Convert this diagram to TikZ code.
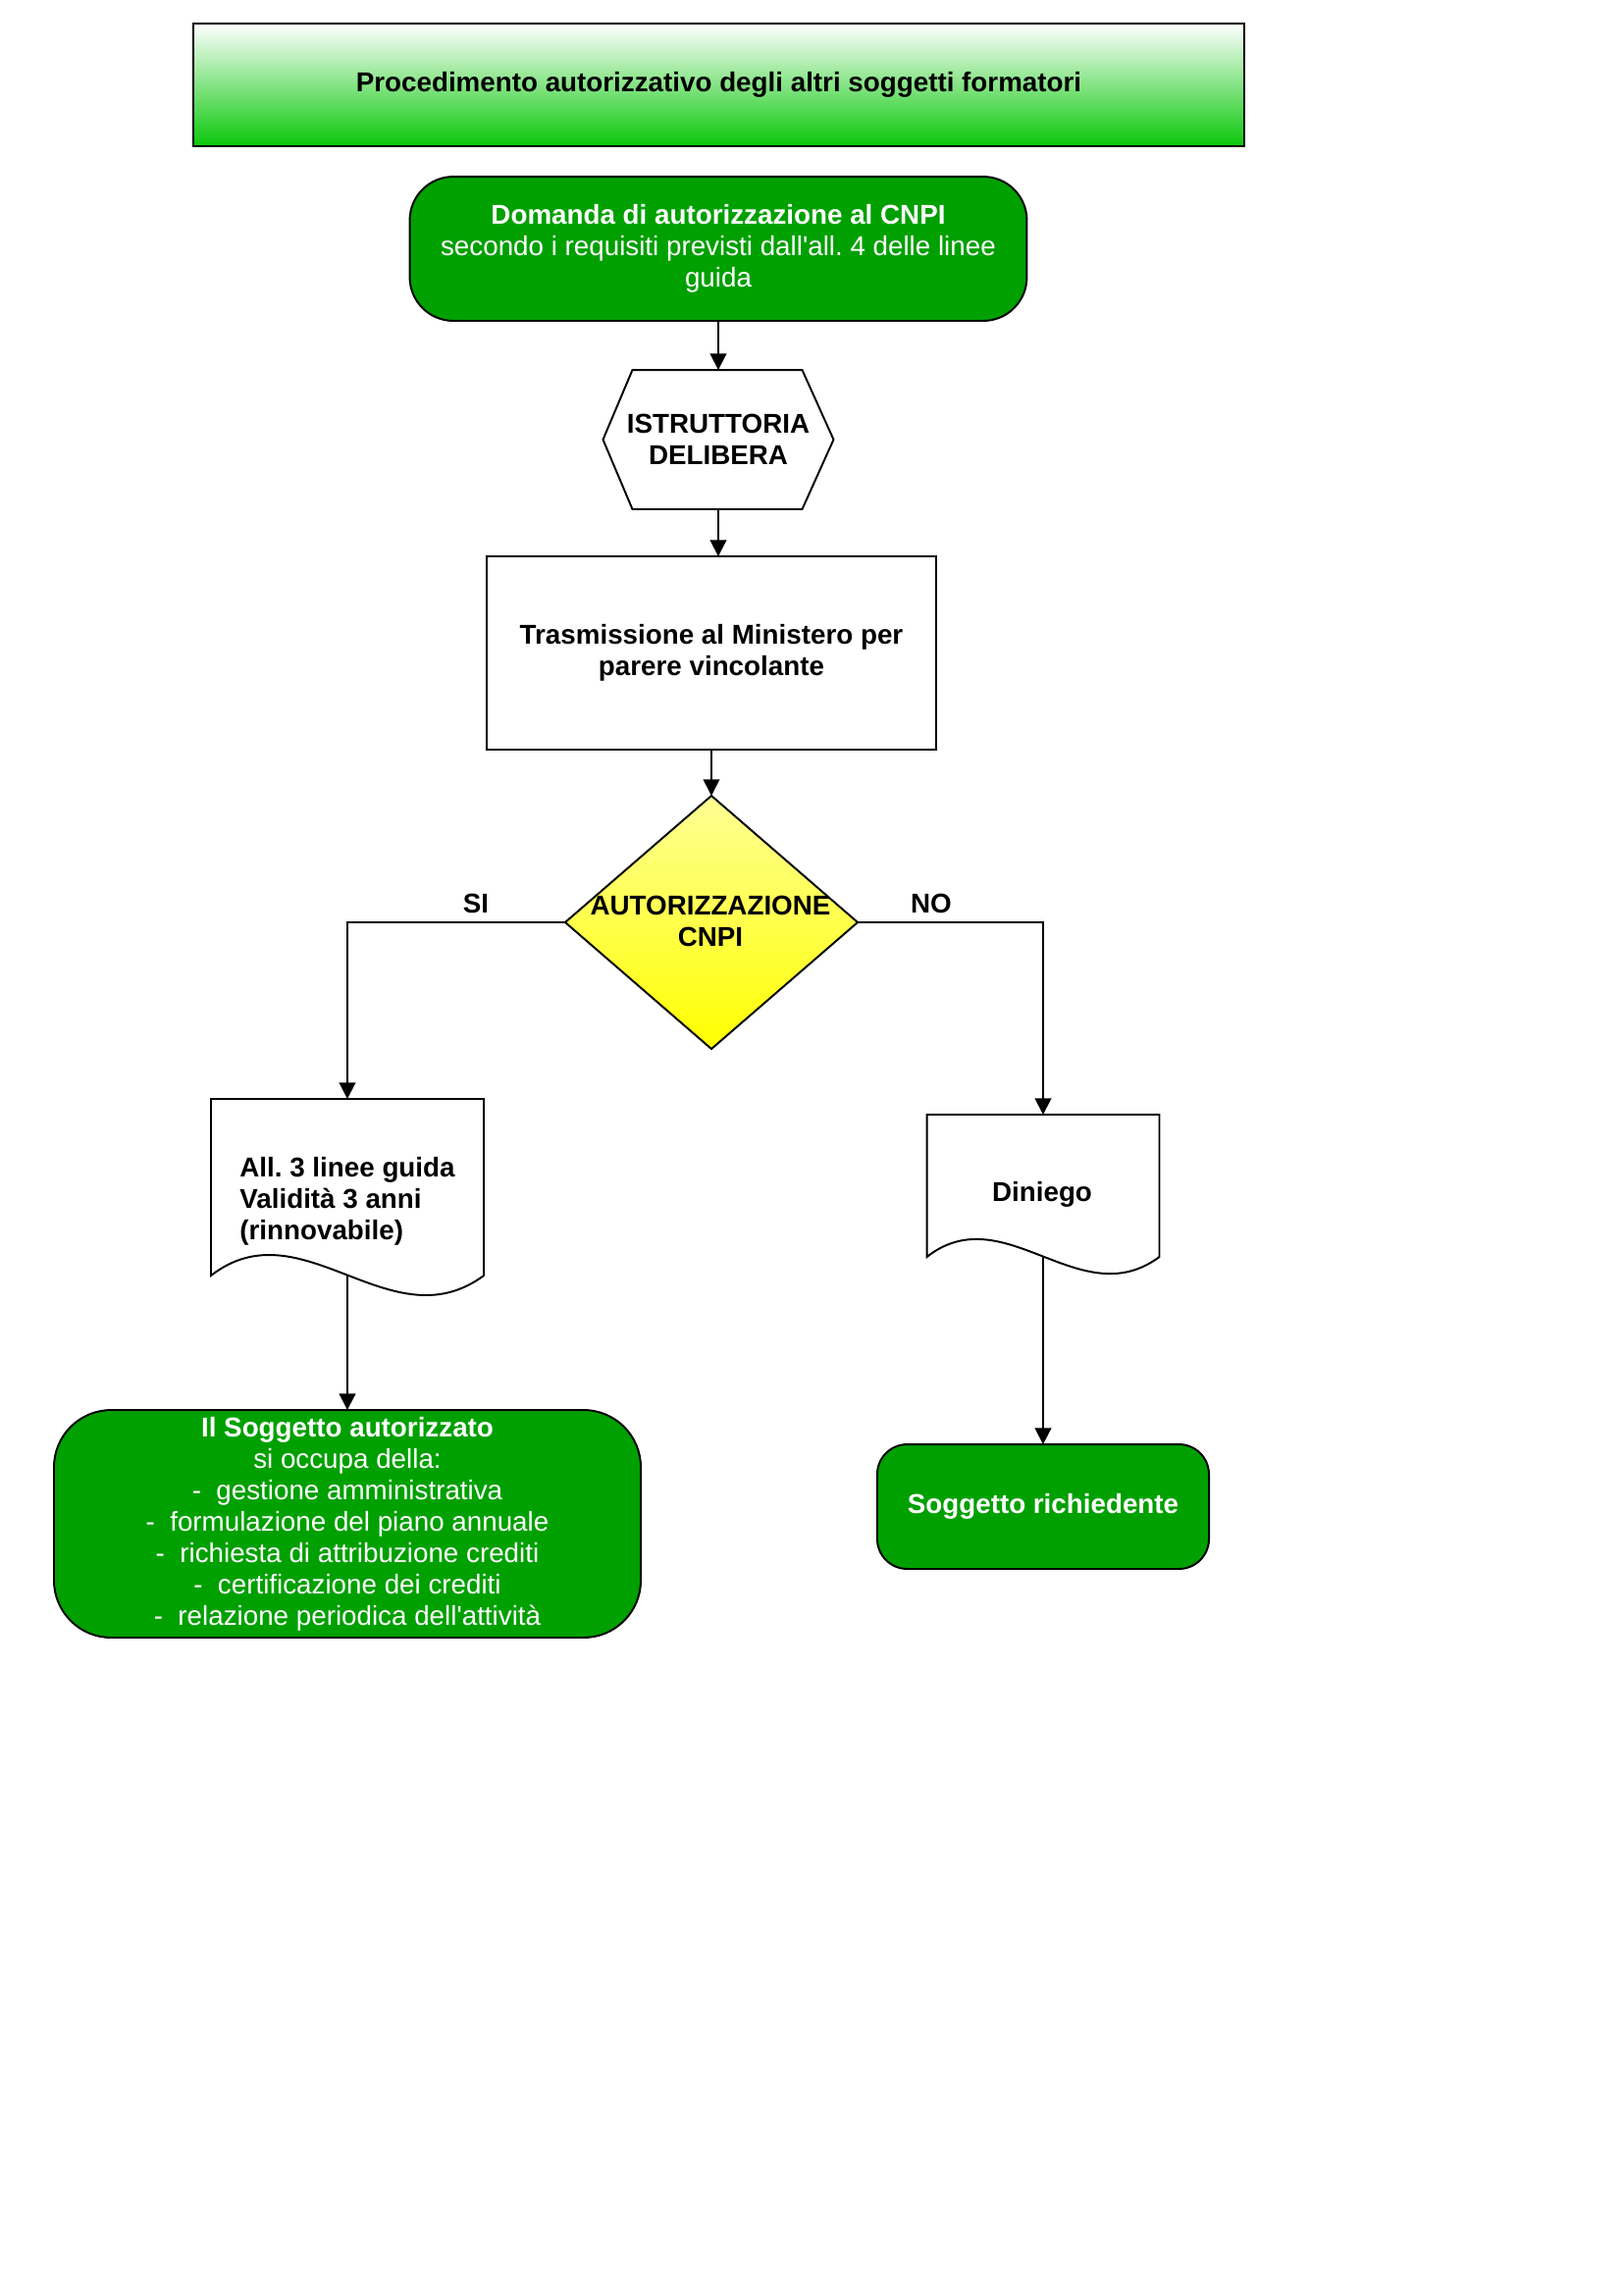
\documentclass[tikz,border=0pt]{standalone}
\usepackage{fontspec}
\setmainfont{Liberation Sans}
\usetikzlibrary{arrows.meta,calc}
\definecolor{boxgreen}{RGB}{0,160,0}
\definecolor{titlegreen}{RGB}{10,200,10}
\definecolor{ylight}{RGB}{255,255,150}
\definecolor{ydark}{RGB}{255,255,0}
\begin{document}
\frenchspacing
\begin{tikzpicture}[x=0.36pt,y=-0.36pt,
  font=\fontsize{10}{11.5}\selectfont,
  lw/.style={line width=0.7pt},
  arr/.style={line width=0.7pt,-{Triangle[length=6pt,width=6pt]}},
  shapebox/.style={inner sep=0pt,outer sep=0pt},
  greenbox/.style={shapebox,draw,line width=0.7pt,fill=boxgreen,text=white,align=center},
  lbl/.style={inner sep=0pt,font=\fontsize{10}{11.5}\selectfont\bfseries,align=center}
]
\useasboundingbox (0,0) rectangle (1654,2339);

% title
\node[shapebox,draw,line width=0.8pt,top color=white,bottom color=titlegreen,
  minimum width=385.6pt,minimum height=45pt,font=\fontsize{10}{11.5}\selectfont\bfseries]
  (title) at (732.5,86.5) {Procedimento autorizzativo degli altri soggetti formatori};

% domanda
\node[greenbox,rounded corners=16pt,minimum width=226.4pt,minimum height=52.9pt]
  (dom) at (732,253.5) {\textbf{Domanda di autorizzazione al CNPI}\\secondo i requisiti previsti dall\textquotesingle all. 4 delle linee\\guida};

% hexagon
\node[shapebox,minimum width=84.6pt,minimum height=51.1pt,lbl] (hex) at (732,448) {ISTRUTTORIA\\DELIBERA};
\draw[lw] (hex.west) -- ($(hex.north west)+(30,0)$) -- ($(hex.north east)+(-32,0)$) -- (hex.east)
  -- ($(hex.south east)+(-32,0)$) -- ($(hex.south west)+(30,0)$) -- cycle;

% trasmissione
\node[shapebox,draw,lw,minimum width=164.9pt,minimum height=70.9pt,lbl] (tras) at (725,665.5)
  {Trasmissione al Ministero per\\parere vincolante};

% decision diamond
\node[shapebox,minimum width=107.3pt,minimum height=92.9pt] (dec) at (725,940) {};
\path[draw,lw,top color=ylight,bottom color=ydark] (dec.north) -- (dec.east) -- (dec.south) -- (dec.west) -- cycle;
\node[lbl] (dect) at (724,939) {AUTORIZZAZIONE\\CNPI};

% document: all. 3
\node[shapebox,minimum width=100.1pt,minimum height=64.8pt] (doc1) at (354,1210) {};
\draw[lw] (doc1.south west) .. controls ($(doc1.south west)+(93,-72)$) and ($(doc1.south east)+(-95,70)$) .. (doc1.south east)
  -- (doc1.north east) -- (doc1.north west) -- cycle;
\node[lbl,align=left] (doc1t) at (354,1224) {All. 3 linee guida\\Validità 3 anni\\(rinnovabile)};

% document: diniego
\node[shapebox,minimum width=85.3pt,minimum height=52.2pt] (den) at (1063,1208.5) {};
\draw[lw] (den.south west) .. controls ($(den.south west)+(79,-62)$) and ($(den.south east)+(-81,60)$) .. (den.south east)
  -- (den.north east) -- (den.north west) -- cycle;
\node[lbl] (dent) at (1062,1217) {Diniego};

% soggetto autorizzato
\node[greenbox,rounded corners=21pt,minimum width=215.3pt,minimum height=83.5pt] (auth) at (354,1553)
  {\textbf{Il Soggetto autorizzato}\\si occupa della:\\-\ \ gestione amministrativa\\-\ \ formulazione del piano annuale\\-\ \ richiesta di attribuzione crediti\\-\ \ certificazione dei crediti\\-\ \ relazione periodica dell\textquotesingle attività};

% soggetto richiedente
\node[greenbox,rounded corners=11pt,minimum width=121.7pt,minimum height=45.7pt,font=\fontsize{10}{11.5}\selectfont\bfseries]
  (req) at (1063,1535.5) {Soggetto richiedente};

% connectors
\draw[arr] (dom.south) -- (hex.north);
\draw[arr] (hex.south) -- (hex.south |- tras.north);
\draw[arr] (tras.south) -- (dec.north);
\draw[arr] (dec.west) -| (doc1.north);
\draw[arr] (dec.east) -| (den.north);
\draw[arr] (doc1.south) -- (auth.north);
\draw[arr] (den.south) -- (req.north);

% branch labels
\node[lbl] (si) at (485,921) {SI};
\node[lbl] (no) at (949,921) {NO};
\end{tikzpicture}
\end{document}
